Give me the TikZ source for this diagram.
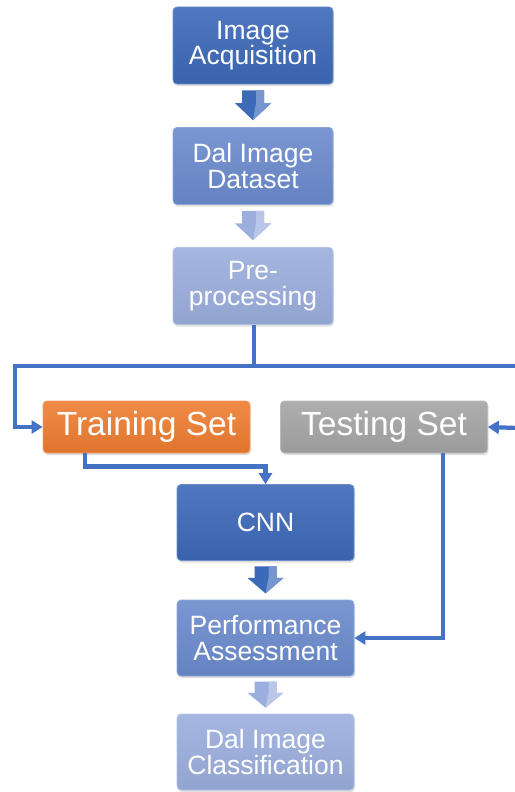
\documentclass[tikz,border=0pt]{standalone}
\usepackage{fontspec}
\setmainfont{Liberation Sans}
\usetikzlibrary{calc,shadows,arrows.meta}
\definecolor{bdark}{HTML}{3C69B8}
\definecolor{bmid}{HTML}{6B8BCD}
\definecolor{blight}{HTML}{9BAEDD}
\definecolor{conncol}{HTML}{4472C4}
\definecolor{orng}{HTML}{ED7D31}
\definecolor{gry}{HTML}{A5A5A5}
\tikzset{
  box/.style={rounded corners=4pt, inner sep=0pt, align=center, text=white,
    top color=#1!90!white, bottom color=#1!94!black, draw=#1!75!white, line width=0.8pt,
    drop shadow={opacity=0.25, shadow xshift=1pt, shadow yshift=-2pt},
    font=\fontsize{26.5}{25.5}\selectfont},
  topbox/.style={box=#1, minimum width=160pt, minimum height=77pt},
  lowbox/.style={box=#1, minimum width=177pt, minimum height=76pt},
  setbox/.style={box=#1, minimum width=207pt, minimum height=52pt, font=\fontsize{33.5}{33}\selectfont},
  conn/.style={draw=conncol, line width=4.2pt},
  tip/.style={-{Triangle[length=11pt,width=13pt]}}
}
\newcommand\chevron[3]{%
  \fill[#3] ($(#1.south)!0.14!(#2.north)+(-11,0)$) -- ($(#1.south)!0.14!(#2.north)+(11,0)$)
    -- ($(#1.south)!0.44!(#2.north)+(11,0)$) -- ($(#1.south)!0.44!(#2.north)+(18,0)$)
    -- ($(#1.south)!0.84!(#2.north)$) -- ($(#1.south)!0.44!(#2.north)+(-18,0)$)
    -- ($(#1.south)!0.44!(#2.north)+(-11,0)$) -- cycle;
  \fill[#3!70!white] ($(#1.south)!0.14!(#2.north)+(3,0)$) -- ($(#1.south)!0.14!(#2.north)+(11,0)$)
    -- ($(#1.south)!0.44!(#2.north)+(11,0)$) -- ($(#1.south)!0.44!(#2.north)+(18,0)$)
    -- ($(#1.south)!0.84!(#2.north)$) -- ($(#1.south)!0.44!(#2.north)+(3,0)$) -- cycle;
}
\begin{document}
\begin{tikzpicture}[x=1pt,y=-1pt]
\useasboundingbox[fill=white] (0,0) rectangle (514,792);
\node[topbox=bdark] (ia) at (253,45.5) {Image\\Acquisition};
\node[topbox=bmid] (ds) at (253,166) {Dal Image\\Dataset};
\node[topbox=blight] (pp) at (253,286) {Pre-\\processing};
\node[setbox=orng] (train) at (146.5,427) {Training Set};
\node[setbox=gry] (test) at (384,427) {Testing Set};
\node[lowbox=bdark] (cnn) at (265.5,522.5) {CNN};
\node[lowbox=bmid] (pa) at (265.5,638) {Performance\\Assessment};
\node[lowbox=blight] (dic) at (265.5,752) {Dal Image\\Classification};
\chevron{ia}{ds}{bdark}
\chevron{ds}{pp}{blight}
\chevron{cnn}{pa}{bdark}
\chevron{pa}{dic}{blight}
\coordinate (split) at (254,366);
\coordinate (lft) at (15,366);
\coordinate (rgt) at (518,366);
\coordinate (rin) at (518,428);
\draw[conn] ([xshift=1pt]pp.south) -- (split);
\draw[conn] (split) -- (rgt);
\draw[conn,tip] (split) -- (lft) |- (train.west);
\draw[conn,tip] (rin) -- (test.east);
\draw[conn,tip] ([xshift=42pt]train.south west) -- ++(0,13) -| (cnn.north);
\draw[conn,tip] ([xshift=163pt]test.south west) |- (pa.east);
\end{tikzpicture}
\end{document}
